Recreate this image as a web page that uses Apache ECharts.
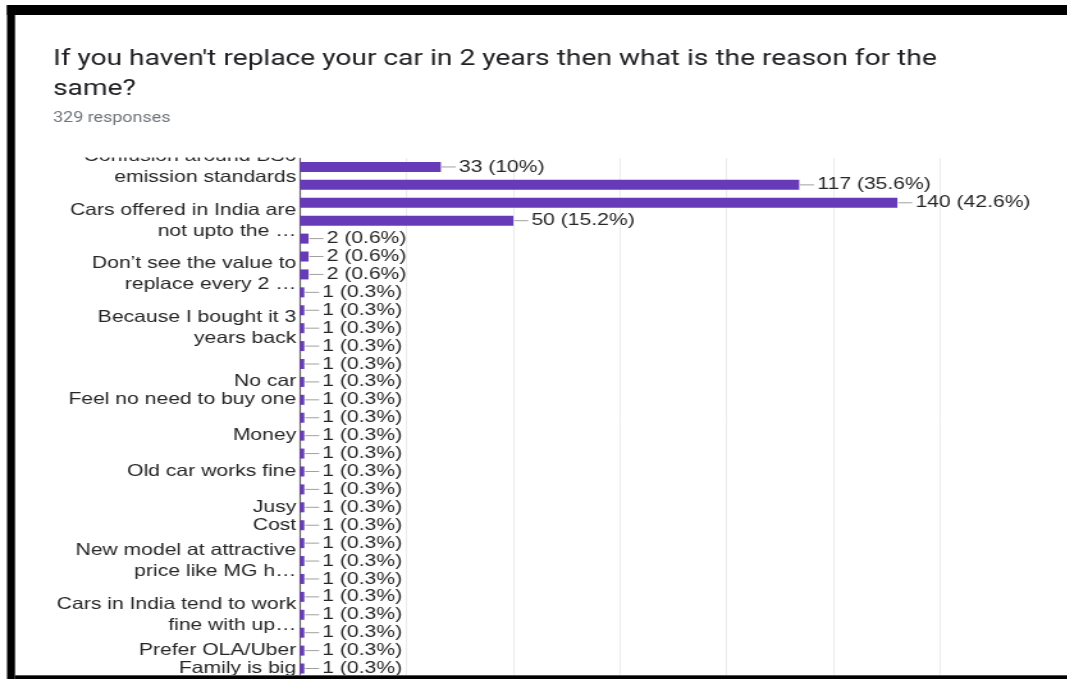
<!DOCTYPE html>
<html>
<head>
<meta charset="utf-8">
<script src="https://cdn.jsdelivr.net/npm/echarts@6/dist/echarts.min.js"></script>
<style>
  html, body { margin: 0; padding: 0; background: #fff; overflow: hidden; }
  /* the chart is laid out narrow, then widened horizontally */
  #chart { width: 833.6px; height: 679px; transform: scaleX(1.28); transform-origin: 0 0; }
</style>
</head>
<body>
<div id="chart"></div>
<script>
// Survey: reasons for not replacing a car (checkbox question, 329 responses)
const totalResponses = 329;

// one entry per answer row, top to bottom; '' where the row carries no label
const categories = [
  'Confusion around BS6\nemission standards',
  '',
  '',
  'Cars offered in India are\nnot upto the …',
  '',
  '',
  'Don’t see the value to\nreplace every 2 …',
  '',
  '',
  'Because I bought it 3\nyears back',
  '',
  '',
  'No car',
  'Feel no need to buy one',
  '',
  'Money',
  '',
  'Old car works fine',
  '',
  'Jusy',
  'Cost',
  '',
  'New model at attractive\nprice like MG h…',
  '',
  '',
  'Cars in India tend to work\nfine with up…',
  '',
  'Prefer OLA/Uber',
  'Family is big'
];

const counts = [
  33, 117, 140, 50, 2, 2, 2, 1, 1, 1,
  1, 1, 1, 1, 1, 1, 1, 1, 1, 1,
  1, 1, 1, 1, 1, 1, 1, 1, 1
];

const xTicks = { min: 0, max: 150, interval: 25 };

function pct(v) {
  const p = Math.round(v / totalResponses * 1000) / 10;
  return (p % 1 === 0 ? p.toFixed(0) : p.toFixed(1)) + '%';
}

const W = 833.6;   // layout width before the horizontal stretch
const textColor = '#262626';
const chart = echarts.init(document.getElementById('chart'), null, { renderer: 'canvas' });

chart.setOption({
  animation: false,
  backgroundColor: '#ffffff',
  title: [
    {
      text: "If you haven't replace your car in 2 years then what is the reason for the\nsame?",
      left: 41.4,
      top: 44,
      padding: 0,
      textStyle: {
        fontFamily: 'Roboto',
        fontWeight: 'normal',
        fontSize: 22,
        lineHeight: 30,
        color: '#202124'
      }
    },
    {
      text: totalResponses + ' responses',
      left: 41.4,
      top: 110,
      padding: 0,
      textStyle: {
        fontFamily: 'Roboto',
        fontWeight: 'normal',
        fontSize: 14,
        lineHeight: 16,
        color: '#70757a'
      }
    }
  ],
  grid: { left: 234.4, width: 500, top: 158, height: 520.9, containLabel: false },
  xAxis: {
    type: 'value',
    min: xTicks.min,
    max: xTicks.max,
    interval: xTicks.interval,
    axisLabel: { show: false },
    axisLine: { show: false },
    axisTick: { show: false },
    splitLine: { show: true, lineStyle: { color: '#ebebeb', width: 1 } }
  },
  yAxis: {
    type: 'category',
    inverse: true,
    data: categories,
    axisTick: { show: false },
    axisLine: { show: true, lineStyle: { color: '#5f5f5f', width: 1.2 } },
    axisLabel: {
      interval: 0,
      margin: 3,
      fontFamily: 'Liberation Sans',
      fontSize: 16.5,
      lineHeight: 21,
      color: textColor,
      align: 'right'
    }
  },
  series: [{
    type: 'bar',
    data: counts,
    barWidth: 10,
    itemStyle: { color: '#673ab7' },
    label: {
      show: true,
      position: 'right',
      distance: 0.6,
      formatter: p => '{l| }{v|' + p.value + ' (' + pct(p.value) + ')}',
      rich: {
        l: { width: 11, height: 1, backgroundColor: '#a0a0a0' },
        v: {
          fontFamily: 'Liberation Sans',
          fontSize: 16.5,
          color: textColor,
          padding: [0, 0, 0, 2.5]
        }
      }
    }
  }],
  graphic: [
    // the scroll window hides everything above the plot
    { type: 'rect', z: 100, shape: { x: 11.7, y: 128, width: W, height: 29.5 }, style: { fill: '#ffffff' } },
    // dark frame along top, left and bottom edges
    { type: 'rect', z: 110, shape: { x: 5.47, y: 5, width: W, height: 10 }, style: { fill: '#000000' } },
    { type: 'rect', z: 110, shape: { x: 5.47, y: 5, width: 6.25, height: 680 }, style: { fill: '#000000' } },
    { type: 'rect', z: 110, shape: { x: 11.7, y: 675, width: W, height: 1 }, style: { fill: '#4a5a60' } },
    { type: 'rect', z: 110, shape: { x: 11.7, y: 676, width: W, height: 4 }, style: { fill: '#000000' } }
  ]
});
</script>
</body>
</html>
